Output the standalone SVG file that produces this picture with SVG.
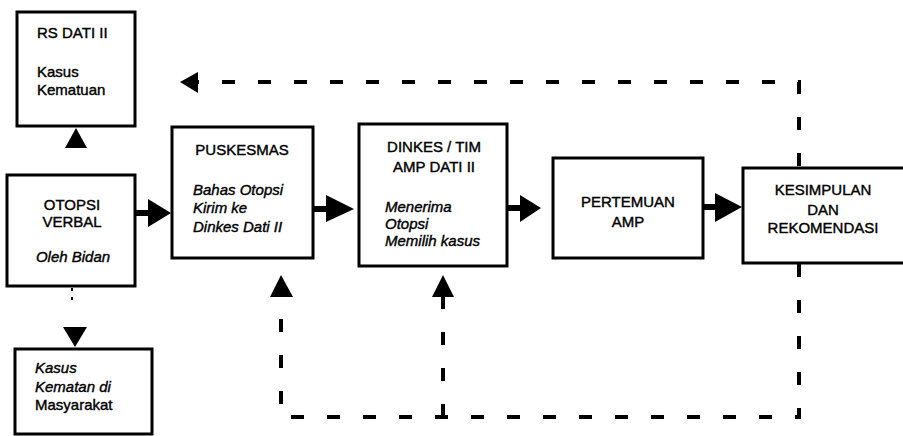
<svg xmlns="http://www.w3.org/2000/svg" width="903" height="436" viewBox="0 0 903 436">
<style>
.box{fill:#fff;stroke:#000;stroke-width:3}
.t{font-family:"Liberation Sans",Arial,sans-serif;font-size:15px;fill:#000;stroke:#000;stroke-width:0.4}
.i{font-style:italic}
.m{text-anchor:middle}
.sh{stroke:#000;stroke-width:6;fill:none}
.d{stroke:#000;stroke-width:4;fill:none;stroke-dasharray:13 23}
.h{fill:#000}
</style>
<rect width="903" height="436" fill="#fff"/>
<g id="rs-dati">
<rect class="box" x="17" y="12" width="118" height="114"/>
<text class="t" x="37" y="38">RS DATI II</text>
<text class="t" x="37" y="77">Kasus</text>
<text class="t" x="37" y="95">Kematuan</text>
</g>
<g id="otopsi-verbal">
<rect class="box" x="7" y="175" width="128" height="111"/>
<text class="t m" x="72" y="210">OTOPSI</text>
<text class="t m" x="72" y="227">VERBAL</text>
<text class="t i m" x="73" y="262">Oleh Bidan</text>
</g>
<g id="kasus-masyarakat">
<rect class="box" x="15" y="349" width="137" height="85"/>
<text class="t i" x="35" y="373">Kasus</text>
<text class="t i" x="35" y="392">Kematan di</text>
<text class="t" x="35" y="410">Masyarakat</text>
</g>
<g id="puskesmas">
<rect class="box" x="172" y="127" width="141" height="131"/>
<text class="t m" x="242" y="155">PUSKESMAS</text>
<text class="t i" x="193" y="195">Bahas Otopsi</text>
<text class="t i" x="193" y="213">Kirim ke</text>
<text class="t i" x="193" y="232">Dinkes Dati II</text>
</g>
<g id="dinkes">
<rect class="box" x="359" y="124" width="148" height="142"/>
<text class="t m" x="434" y="152">DINKES / TIM</text>
<text class="t m" x="434" y="172">AMP DATI II</text>
<text class="t i" x="385" y="212">Menerima</text>
<text class="t i" x="385" y="229">Otopsi</text>
<text class="t i" x="385" y="246">Memilih kasus</text>
</g>
<g id="pertemuan">
<rect class="box" x="553" y="158" width="150" height="100"/>
<text class="t m" x="628" y="207">PERTEMUAN</text>
<text class="t m" x="628" y="227">AMP</text>
</g>
<g id="kesimpulan">
<rect class="box" x="743" y="168" width="162" height="95"/>
<text class="t m" x="823" y="195">KESIMPULAN</text>
<text class="t m" x="823" y="215">DAN</text>
<text class="t m" x="823" y="233">REKOMENDASI</text>
</g>
<g id="connectors">
<polygon class="h" points="76,128 65,148 87,148"/>
<line x1="72" y1="288" x2="72" y2="300" stroke="#000" stroke-width="2" stroke-dasharray="3 6"/>
<polygon class="h" points="63,327 87,327 75,347"/>
<line class="sh" x1="135" y1="213" x2="150" y2="213"/>
<polygon class="h" points="148,199 148,227 171,213"/>
<line class="sh" x1="313" y1="209" x2="328" y2="209"/>
<polygon class="h" points="326,195 326,222 354,209"/>
<line class="sh" x1="507" y1="208" x2="522" y2="208"/>
<polygon class="h" points="520,195 520,222 541,208"/>
<line class="sh" x1="703" y1="207" x2="717" y2="207"/>
<polygon class="h" points="715,193 715,222 742,207"/>
<path class="d" d="M799,166 V82 H198"/>
<polygon class="h" points="180,82 198,72 198,93"/>
<path class="d" d="M799,264 V417 H281 V297"/>
<polygon class="h" points="281,275 270,297 293,297"/>
<path class="d" d="M443,417 V297"/>
<polygon class="h" points="443,275 432,297 454,297"/>
</g>
</svg>
